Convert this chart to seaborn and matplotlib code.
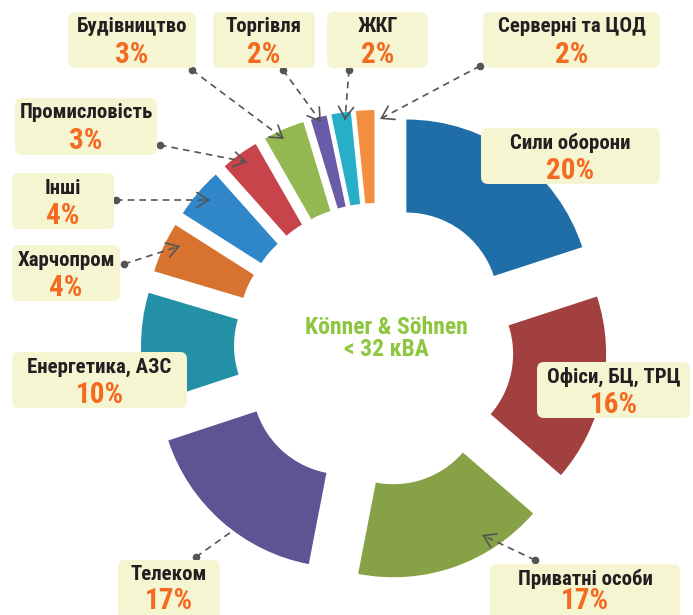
import matplotlib
matplotlib.use("Agg")
import matplotlib.pyplot as plt
import seaborn as sns
from matplotlib.patches import FancyBboxPatch
from matplotlib import font_manager as fm
import os

# ---------------- data ----------------
sectors = ["Сили оборони", "Офіси, БЦ, ТРЦ", "Приватні особи", "Телеком",
           "Енергетика, АЗС", "Харчопром", "Інші", "Промисловість",
           "Будівництво", "Торгівля", "ЖКГ", "Серверні та ЦОД"]
# angular shares read from the drawn ring (clockwise from 12 o'clock)
shares = [20.0, 16.4, 16.7, 16.9, 9.7, 4.4, 4.4, 3.3, 3.6, 1.4, 1.7, 1.6]
pct_labels = ["20%", "16%", "17%", "17%", "10%", "4%", "4%", "3%", "3%",
              "2%", "2%", "2%"]
colors = ["#1F6EA7", "#A1403F", "#86A146", "#5E5494", "#2490A6", "#D8722F",
          "#2F86C9", "#C8444B", "#94B852", "#6A5BA8", "#27AFC8", "#F28E3D"]
center_title = "Könner & Söhnen"
center_sub = "< 32 кВА"

# ---------------- style ----------------
sns.set_theme(style="white")
plt.rcParams["font.family"] = ["Roboto", "DejaVu Sans"]


def find_condensed_bold():
    files = [f.fname for f in fm.fontManager.ttflist]
    extra = fm.findSystemFonts(fontext="ttf") + fm.findSystemFonts(fontext="otf")
    allf = list(dict.fromkeys(files + extra))
    prefs = ["liberationsansnarrow-bold.", "robotocondensed-bold.",
             "roboto_condensed-bold", "notosans-condensedbold.",
             "notosans-condensed-bold", "opensans-condensedbold",
             "opensans_condensed-bold", "dejavusanscondensed-bold."]
    low = [(os.path.basename(p).lower(), p) for p in allf]
    for key in prefs:
        for b, p in low:
            if b.startswith(key):
                return p
    for b, p in low:
        if ("narrow" in b or "condensed" in b) and "bold" in b and "oblique" not in b \
                and "italic" not in b and "semi" not in b and "extra" not in b:
            return p
    return None


cfile = find_condensed_bold()
if cfile:
    LBL = fm.FontProperties(fname=cfile)
    SCALE = 1.0
else:
    LBL = fm.FontProperties(family=["Roboto", "DejaVu Sans"], weight="bold")
    SCALE = 0.86

W, H = 693, 615
fig = plt.figure(figsize=(W / 100, H / 100), dpi=100)
ax = fig.add_axes([0, 0, 1, 1])


def Y(y):
    return H - y


# ring geometry (pixels)
cx, cy = 377, 345
explode = [50, 45, 50, 50, 51, 50, 50, 50, 50, 50, 50, 50]
wedges, _ = ax.pie(shares, colors=colors, startangle=90, counterclock=False,
                   radius=185, center=(cx, Y(cy)), explode=explode,
                   wedgeprops=dict(width=93, edgecolor="none", linewidth=0))
for w in wedges:
    w.set_zorder(2)

# ---------------- label boxes ----------------
BOX_FC = "#F5F5D2"
boxes = {
    "Будівництво": (68, 12, 196, 68),
    "Торгівля": (213, 12, 315, 68),
    "ЖКГ": (327, 12, 428, 68),
    "Серверні та ЦОД": (483, 12, 660, 68),
    "Промисловість": (15, 98, 157, 155),
    "Інші": (12, 173, 114, 229),
    "Харчопром": (12, 245, 120, 301),
    "Енергетика, АЗС": (12, 352, 187, 408),
    "Телеком": (118, 560, 220, 620),
    "Приватні особи": (490, 564, 680, 624),
    "Офіси, БЦ, ТРЦ": (537, 362, 690, 418),
    "Сили оборони": (481, 128, 660, 184),
}
pct_dy = {"Телеком": 41, "Приватні особи": 37}
for name, pct in zip(sectors, pct_labels):
    x0, y0, x1, y1 = boxes[name]
    r = 7
    patch = FancyBboxPatch((x0 + r, Y(y1) + r), (x1 - x0) - 2 * r,
                           (y1 - y0) - 2 * r,
                           boxstyle=f"round,pad={r},rounding_size={r}",
                           fc=BOX_FC, ec="none", zorder=5)
    ax.add_patch(patch)
    xc = (x0 + x1) / 2
    ax.text(xc, Y(y0 + 15), name, ha="center", va="center",
            fontproperties=LBL, fontsize=15 * SCALE,
            color="#231F20", zorder=6)
    ax.text(xc, Y(y0 + pct_dy.get(name, 43)), pct, ha="center", va="center",
            fontproperties=LBL, fontsize=21 * SCALE,
            color="#F26B21", zorder=6)

# ---------------- connectors ----------------
LC = "#555555"
connectors = [
    ((192, 70), (284, 139), True),
    ((283, 70), (321, 122), True),
    ((349, 70), (345, 120), True),
    ((480, 66), (380, 119), True),
    ((160, 145), (247, 162), True),
    ((116, 200), (210, 200), True),
    ((124, 264), (180, 246), True),
    ((196, 557), (245, 522), False),
    ((535, 560), (482, 535), True),
]
for (dx, dy), (tx, ty), arrow in connectors:
    ax.plot([dx, tx], [Y(dy), Y(ty)], color=LC, lw=1.2,
            linestyle=(0, (4, 3)), zorder=1 if not arrow else 4)
    ax.plot([dx], [Y(dy)], marker="o", ms=4.5, color=LC, zorder=4)
    if arrow:
        vx, vy = tx - dx, ty - dy
        n = (vx ** 2 + vy ** 2) ** 0.5
        sx, sy = tx - vx / n * 3, ty - vy / n * 3
        ax.annotate("", xy=(tx, Y(ty)), xytext=(sx, Y(sy)),
                    arrowprops=dict(arrowstyle="->,head_length=0.7,head_width=0.45",
                                    color=LC, lw=1.2, shrinkA=0, shrinkB=0),
                    zorder=4)

# ---------------- centre text ----------------
ax.text(386, Y(327), center_title, ha="center", va="center",
        fontproperties=LBL, fontsize=17 * SCALE, color="#8DC63F", zorder=6)
ax.text(386, Y(350), center_sub, ha="center", va="center",
        fontproperties=LBL, fontsize=17 * SCALE, color="#8DC63F", zorder=6)

ax.set_xlim(0, W)
ax.set_ylim(0, H)
ax.set_aspect("equal")
ax.axis("off")
fig.savefig("out.png", dpi=100, facecolor="white")
